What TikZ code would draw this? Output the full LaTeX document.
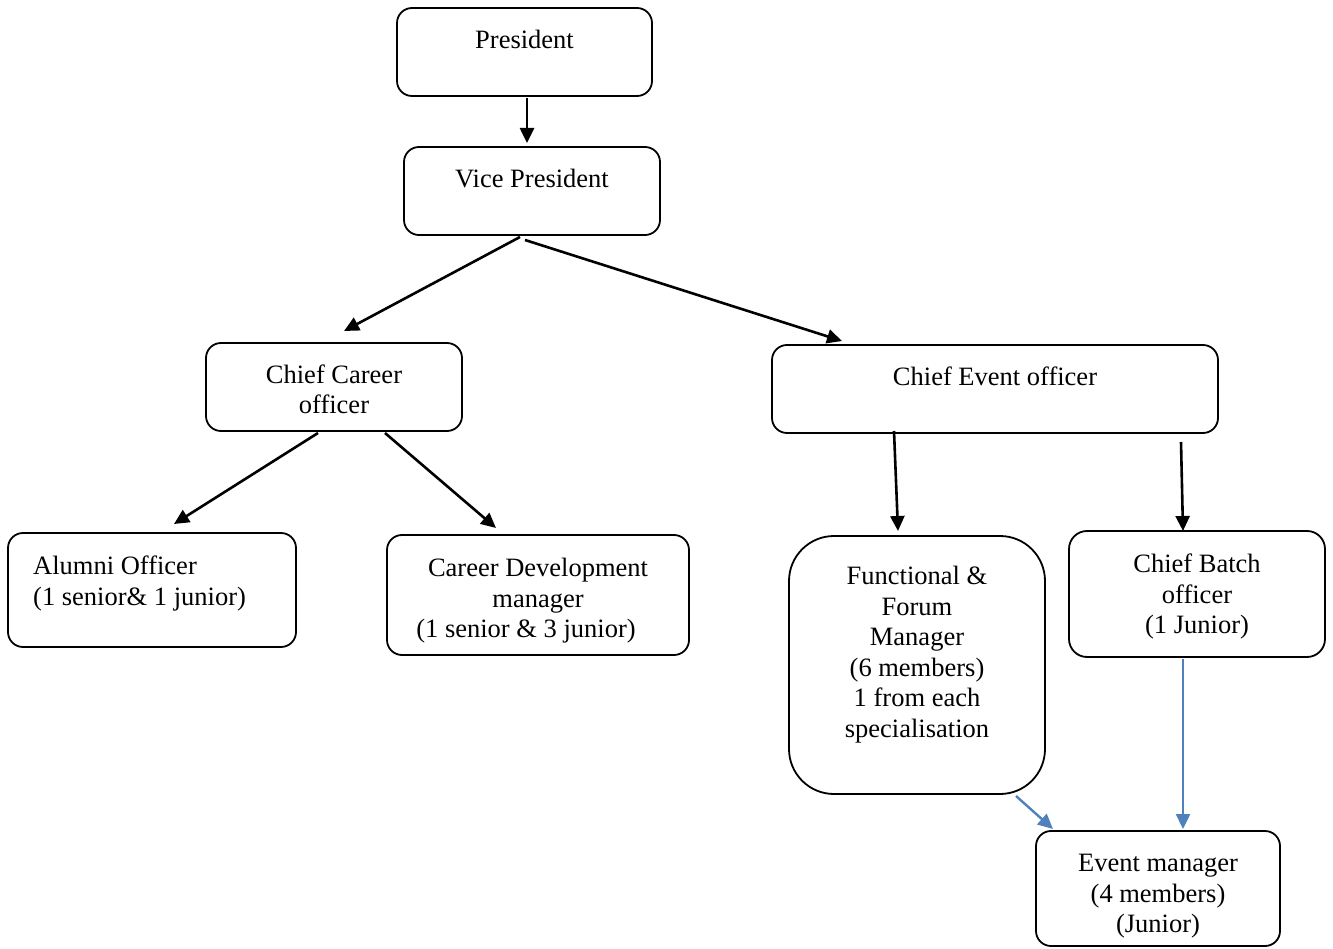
\documentclass[tikz,border=0pt]{standalone}
\usepackage{fontspec}
\setmainfont{Liberation Serif}
\usetikzlibrary{arrows.meta,calc}
\definecolor{linkblue}{RGB}{79,129,189}
\tikzset{
  bx/.style={draw, line width=1.8pt, rounded corners=15pt, inner sep=0pt},
  txt/.style={inner sep=0pt, font=\fontsize{26.5}{30.5}\selectfont},
  arr/.style={line width=2.6pt, -{Triangle[length=15pt,width=14pt]}},
  barr/.style={line width=2.4pt, draw=linkblue, -{Triangle[length=15pt,width=14pt]}, linkblue},
}
\newcommand\ctext[1]{\parbox[t]{400pt}{\centering #1}}
\begin{document}
\begin{tikzpicture}[x=1pt,y=-1pt]
\useasboundingbox (0,0) rectangle (1333,949);
% boxes
\node[bx, minimum width=255pt, minimum height=88pt] (pres) at (524.5,52) {};
\node[bx, minimum width=256pt, minimum height=88pt] (vp) at (532,191) {};
\node[bx, minimum width=256pt, minimum height=88pt] (cco) at (334,387) {};
\node[bx, minimum width=446pt, minimum height=88pt] (ceo) at (995,389) {};
\node[bx, minimum width=288pt, minimum height=114pt] (alum) at (152,590) {};
\node[bx, minimum width=302pt, minimum height=120pt] (cdm) at (538,595) {};
\node[bx, rounded corners=45pt, minimum width=256pt, minimum height=258pt] (ffm) at (917,665) {};
\node[bx, rounded corners=18pt, minimum width=256pt, minimum height=126pt] (cbo) at (1197,594) {};
\node[bx, minimum width=244pt, minimum height=115pt] (evm) at (1158,888.5) {};
% texts
\node[txt, anchor=base] (presT) at (524.5,48.5) {\ctext{President}};
\node[txt, anchor=base] (vpT) at (532,187.5) {\ctext{Vice President}};
\node[txt, anchor=base] (ccoT) at (334,383.5) {\ctext{Chief Career\\officer}};
\node[txt, anchor=base] (ceoT) at (995,385.5) {\ctext{Chief Event officer}};
\node[txt, anchor=base west] (alumT) at (33,574.5) {\parbox[t]{250pt}{\raggedright Alumni Officer\\(1 senior\& 1 junior)}};
\node[txt, anchor=base] (cdmT) at (538,576.5) {\ctext{Career Development\\manager\\(1 senior \& 3 junior)\hspace*{24pt}}};
\node[txt, anchor=base] (ffmT) at (917,584.5) {\ctext{Functional \&\\Forum\\Manager\\(6 members)\\1 from each\\specialisation}};
\node[txt, anchor=base] (cboT) at (1197,572.5) {\ctext{Chief Batch\\officer\\(1 Junior)}};
\node[txt, anchor=base] (evmT) at (1158,871.5) {\ctext{Event manager\\(4 members)\\(Junior)}};
% connector end points
\coordinate (a1s) at (527,98);   \coordinate (a1e) at (527,143);
\coordinate (a2s) at (520,237);  \coordinate (a2e) at (344,331);
\coordinate (a3s) at (525,240);  \coordinate (a3e) at (842,341);
\coordinate (a4s) at (318,433);  \coordinate (a4e) at (174,524);
\coordinate (a5s) at (385,433);  \coordinate (a5e) at (496,528);
\coordinate (a6s) at (894,431);  \coordinate (a6e) at (898,531);
\coordinate (a7s) at (1181,442); \coordinate (a7e) at (1183,531);
\coordinate (b1s) at (1016,796); \coordinate (b1e) at (1053,829);
\coordinate (b2s) at (1183,659); \coordinate (b2e) at (1183,829);
% connectors
\draw[arr] (a1s) -- (a1e);
\draw[arr] (a2s) -- (a2e);
\draw[arr] (a3s) -- (a3e);
\draw[arr] (a4s) -- (a4e);
\draw[arr] (a5s) -- (a5e);
\draw[arr] (a6s) -- (a6e);
\draw[arr] (a7s) -- (a7e);
\draw[barr] (b1s) -- (b1e);
\draw[barr] (b2s) -- (b2e);
\end{tikzpicture}
\end{document}
